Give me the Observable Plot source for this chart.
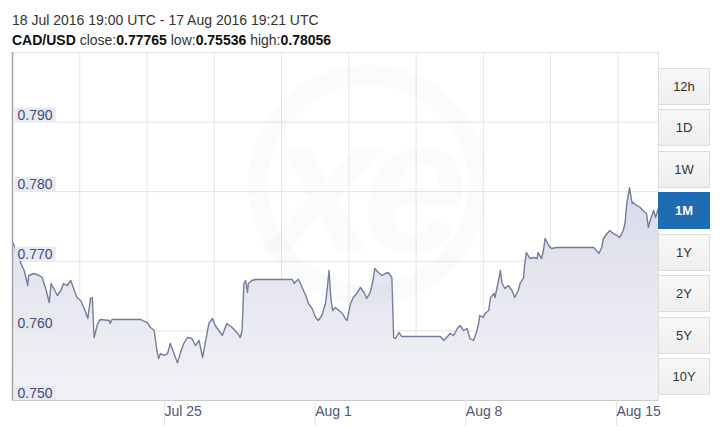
<!DOCTYPE html>
<html>
<head>
<meta charset="utf-8">
<script src="https://cdn.jsdelivr.net/npm/d3@7"></script>
<script src="https://cdn.jsdelivr.net/npm/@observablehq/plot@0.6"></script>
<style>
  body { margin: 0; background: #fff; font-family: "Liberation Sans", Arial, sans-serif; }
  #wrap { position: relative; width: 720px; height: 427px; overflow: hidden; }
  #hdr { position: absolute; left: 12px; top: 10px; font-size: 14px; line-height: 20px; color: #333; white-space: nowrap; }
  #hdr b { color: #111; }
  #chart { position: absolute; left: 0; top: 50px; }
  #wm { position: absolute; left: 0; top: 0; pointer-events: none; }
  .btn { position: absolute; left: 658px; width: 50px; height: 35px; border: 1px solid #dcdcdc; background: linear-gradient(#f8f8f8, #eeeeee); color: #333; font-size: 13px; text-align: center; line-height: 35px; box-sizing: content-box; }
  .btn.on { background: #1e6cb2; border-color: #1e6cb2; color: #fff; font-weight: bold; }
</style>
</head>
<body>
<div id="wrap">
  <div id="hdr"></div>
  <div id="chart"></div>
  <div id="btns"></div>
</div>
<script>
// ---- data ----
const startTime = "2016-07-18T19:00Z";
const endTime = "2016-08-17T19:21Z";
const pair = "CAD/USD";
const closeVal = "0.77765", lowVal = "0.75536", highVal = "0.78056";

// hours elapsed since 18 Jul 2016 19:00 UTC
const hoursElapsed = [
  0, 9, 13, 17, 18, 24, 30, 33, 37, 41, 43, 46, 50, 54, 57, 61, 65, 69, 72, 76,
  80, 84, 87, 89, 91, 95, 98, 108, 109, 111, 143, 145, 150, 154, 158, 161, 163, 165, 169, 173,
  176, 180, 184, 187, 191, 195, 200, 204, 208, 212, 215, 219, 223, 226, 230, 234, 239, 245, 251, 254,
  256, 258, 260, 262, 263, 267, 271, 312, 314, 317, 319, 323, 327, 330, 334, 338, 341, 345, 349, 351,
  353, 355, 357, 360, 364, 368, 371, 373, 377, 380, 384, 388, 392, 395, 399, 402, 404, 408, 412, 416,
  419, 423, 425, 427, 431, 434, 477, 481, 484, 488, 492, 496, 499, 503, 507, 510, 514, 518, 520, 521,
  525, 527, 531, 533, 537, 538, 542, 544, 546, 549, 553, 557, 560, 564, 566, 570, 571, 573, 577, 581,
  585, 586, 590, 592, 594, 598, 601, 607, 648, 651, 654, 657, 659, 663, 666, 670, 674, 677, 681, 683,
  685, 688, 691, 692, 696, 700, 703, 707, 709, 711, 713, 715, 717, 720.35
];
const rates = [
  0.77284, 0.76983, 0.76868, 0.76652, 0.76796, 0.76825, 0.76796, 0.76767, 0.76609, 0.76408, 0.76681, 0.76609, 0.76509, 0.76580, 0.76681, 0.76652, 0.76724, 0.76580, 0.76480, 0.76437,
  0.76322, 0.76178, 0.76466, 0.76480, 0.75905, 0.76106, 0.76164, 0.76149, 0.76106, 0.76164, 0.76164, 0.76149, 0.76121, 0.76049, 0.76006, 0.75718, 0.75603, 0.75675, 0.75647, 0.75675,
  0.75819, 0.75675, 0.75540, 0.75675, 0.75819, 0.75905, 0.75891, 0.75790, 0.75862, 0.75618, 0.75833, 0.76106, 0.76178, 0.76078, 0.76006, 0.75934, 0.76106, 0.76049, 0.75963, 0.75905,
  0.76006, 0.76681, 0.76724, 0.76552, 0.76681, 0.76724, 0.76739, 0.76739, 0.76681, 0.76724, 0.76739, 0.76624, 0.76509, 0.76394, 0.76322, 0.76193, 0.76149, 0.76221, 0.76394, 0.76609,
  0.76868, 0.76466, 0.76293, 0.76336, 0.76293, 0.76250, 0.76178, 0.76149, 0.76394, 0.76480, 0.76537, 0.76624, 0.76552, 0.76466, 0.76552, 0.76724, 0.76897, 0.76839, 0.76796, 0.76825,
  0.76839, 0.76767, 0.75905, 0.75891, 0.75977, 0.75920, 0.75920, 0.75862, 0.75905, 0.75963, 0.75934, 0.76034, 0.76078, 0.76006, 0.76034, 0.75891, 0.75862, 0.76006, 0.76121, 0.76221,
  0.76193, 0.76250, 0.76293, 0.76480, 0.76537, 0.76480, 0.76724, 0.76868, 0.76681, 0.76609, 0.76652, 0.76580, 0.76480, 0.76580, 0.76681, 0.76767, 0.76940, 0.77126, 0.77040, 0.77055,
  0.77040, 0.77126, 0.77040, 0.77155, 0.77328, 0.77227, 0.77184, 0.77198, 0.77198, 0.77155, 0.77112, 0.77198, 0.77328, 0.77399, 0.77443, 0.77399, 0.77371, 0.77342, 0.77443, 0.77543,
  0.77830, 0.78056, 0.77830, 0.77845, 0.77802, 0.77773, 0.77730, 0.77687, 0.77486, 0.77586, 0.77658, 0.77730, 0.77629, 0.77765
];

const yTicks = [0.75, 0.76, 0.77, 0.78, 0.79];
const yTickLabels = ["0.750", "0.760", "0.770", "0.780", "0.790"];
const xTickDates = ["2016-07-25T16:00Z", "2016-08-01T16:00Z", "2016-08-08T16:00Z", "2016-08-15T16:00Z"];
const xTickLabels = ["Jul 25", "Aug 1", "Aug 8", "Aug 15"];
// vertical grid lines (hours since start)
const gridHours = [75, 150, 225, 300, 375, 450, 525, 600, 675];
const periods = ["12h", "1D", "1W", "1M", "1Y", "2Y", "5Y", "10Y"];
const activePeriod = "1M";

// ---- header ----
document.getElementById("hdr").innerHTML =
  `18 Jul 2016 19:00 UTC - 17 Aug 2016 19:21 UTC<br>` +
  `<b>${pair}</b> close:<b>${closeVal}</b> low:<b>${lowVal}</b> high:<b>${highVal}</b>`;

// ---- buttons ----
const btns = document.getElementById("btns");
periods.forEach((p, i) => {
  const b = document.createElement("div");
  b.className = "btn" + (p === activePeriod ? " on" : "");
  b.style.top = (67.5 + i * 41.5) + "px";
  b.textContent = p;
  btns.appendChild(b);
});

// ---- chart ----
const t0 = new Date(startTime).getTime();
const rows = hoursElapsed.map((h, i) => ({ t: new Date(t0 + h * 3600e3), v: rates[i] }));
const gridDates = gridHours.map(h => new Date(t0 + h * 3600e3));
const tickDates = xTickDates.map(d => new Date(d));
const tickLabelMap = new Map(tickDates.map((d, i) => [+d, xTickLabels[i]]));
const yLabelMap = new Map(yTicks.map((d, i) => [d, yTickLabels[i]]));

const chart = Plot.plot({
  width: 720,
  height: 377,
  marginTop: 2,
  marginBottom: 27,
  marginLeft: 12,
  marginRight: 62,
  style: { fontFamily: "Liberation Sans, Arial, sans-serif", background: "transparent", color: "#565c7e" },
  x: { type: "utc", domain: [new Date(startTime), new Date(endTime)], label: null },
  y: { domain: [0.75, 0.80], axis: null, label: null },
  marks: [
    Plot.ruleY(yTicks.slice(1), { stroke: "#e3e3e3" }),
    Plot.ruleX(gridDates, { stroke: "#e6e6e6" }),
    Plot.areaY(rows, { x: "t", y1: () => 0.75, y2: "v", fill: "url(#areaGrad)" }),
    Plot.lineY(rows, { x: "t", y: "v", stroke: "#767c9c", strokeWidth: 1.4 }),
    Plot.frame({ stroke: "#e2e2e2" }),
    Plot.ruleY([0.75], { stroke: "#c9c9c9" }),
    Plot.ruleX([new Date(startTime)], { stroke: "#a3a4ac", strokeWidth: 1.5 }),
    Plot.axisX({
      ticks: tickDates, tickSize: 26, tickPadding: -20, textAnchor: "start", dx: 4,
      fontSize: 14, fill: "#50567a", stroke: "#e2e2e2", label: null,
      tickFormat: d => tickLabelMap.get(+d)
    }),
    Plot.text(yTicks, {
      x: () => new Date(startTime), y: d => d, text: d => yLabelMap.get(d),
      textAnchor: "start", dx: 5, dy: -7, fontSize: 14, fill: "#454c78"
    })
  ]
});
document.getElementById("chart").appendChild(chart);

// gradient for the area
const defs = d3.select(chart).insert("defs", ":first-child");
const grad = defs.append("linearGradient").attr("id", "areaGrad")
  .attr("x1", 0).attr("y1", 0).attr("x2", 0).attr("y2", 1);
grad.append("stop").attr("offset", "0%").attr("stop-color", "#d9dbe8");
grad.append("stop").attr("offset", "100%").attr("stop-color", "#f3f3f7");

// label backgrounds for y tick labels
const labelSet = new Set(yTickLabels);
d3.select(chart).selectAll("text").filter(function () {
  return labelSet.has(this.textContent);
}).each(function () {
  const bb = this.getBBox();
  const r = document.createElementNS("http://www.w3.org/2000/svg", "rect");
  r.setAttribute("x", bb.x - 3);
  r.setAttribute("y", bb.y + 1);
  r.setAttribute("width", bb.width + 6);
  r.setAttribute("height", bb.height - 2);
  r.setAttribute("fill", "#e6e8f2");
  r.setAttribute("fill-opacity", "0.92");
  if (this.getAttribute("transform")) r.setAttribute("transform", this.getAttribute("transform"));
  this.parentNode.insertBefore(r, this);
});

// faint watermark
const wm = d3.select("#wrap").append("svg").attr("id", "wm").attr("width", 720).attr("height", 427);
wm.append("circle").attr("cx", 368).attr("cy", 185).attr("r", 110)
  .attr("fill", "none").attr("stroke", "rgba(175,180,205,0.06)").attr("stroke-width", 20);
wm.append("text").attr("x", 362).attr("y", 250).attr("text-anchor", "middle")
  .attr("font-family", "Liberation Sans, Arial, sans-serif").attr("font-weight", "bold")
  .attr("font-style", "italic").attr("font-size", 190).attr("letter-spacing", -14)
  .attr("fill", "rgba(175,180,205,0.06)").text("xe");
</script>
</body>
</html>
